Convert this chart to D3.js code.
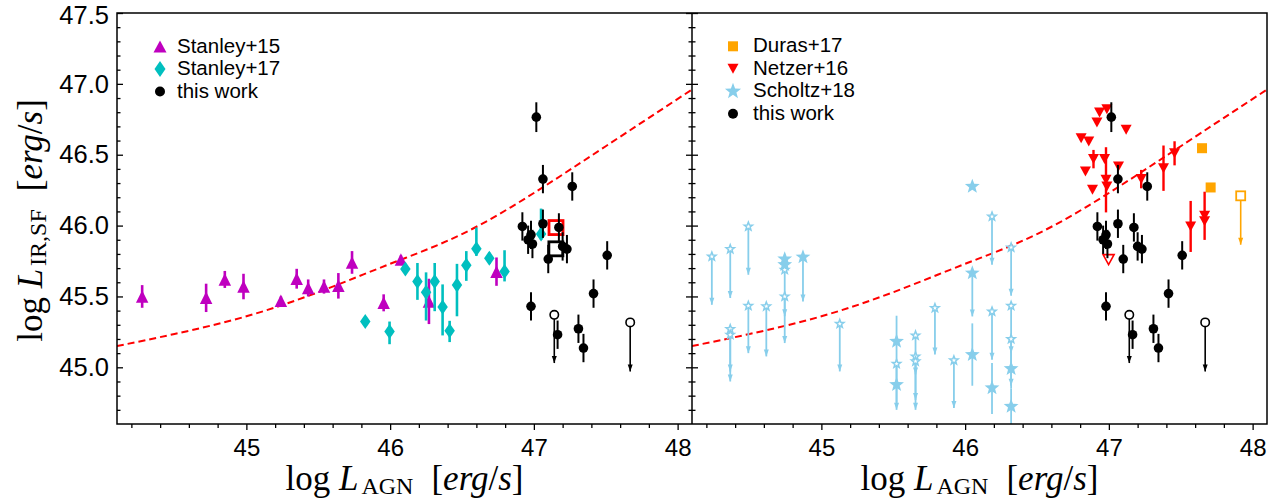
<!DOCTYPE html>
<html><head><meta charset="utf-8">
<script src="https://cdn.jsdelivr.net/npm/d3@7"></script>
<style>body{margin:0;background:#fff}svg{display:block}</style>
</head><body>
<svg id="c" width="1279" height="503"></svg>
<script>
// ---------------- data ----------------
const xTicks = [45, 46, 47, 48];
const yTicks = [45.0, 45.5, 46.0, 46.5, 47.0, 47.5];
const modelX = [44.1, 44.5, 45.0, 45.5, 46.0, 46.5, 47.0, 47.5, 48.1];
const modelY = [45.15, 45.235, 45.36, 45.53, 45.73, 45.94, 46.23, 46.56, 46.96];

// Stanley+15 [logLagn, logLir, err]
const stanley15 = [
  [44.275,45.50,0.08],[44.72,45.49,0.10],[44.85,45.62,0.06],[44.98,45.57,0.09],
  [45.24,45.47,0.03],[45.35,45.625,0.07],[45.43,45.56,0.06],[45.54,45.57,0.05],
  [45.64,45.575,0.09],[45.735,45.74,0.08],[45.955,45.455,0.06],[46.075,45.76,0.03],
  [46.27,45.465,0.16],[46.74,45.675,0.10]
];
// Stanley+17 [x, y, errDown, errUp]
const stanley17 = [
  [45.827,45.324,0.03,0.03],[45.996,45.253,0.09,0.07],[46.106,45.693,0.03,0.03],
  [46.19,45.606,0.13,0.13],[46.25,45.53,0.20,0.14],[46.31,45.606,0.21,0.13],
  [46.365,45.425,0.20,0.16],[46.414,45.258,0.08,0.07],[46.465,45.58,0.22,0.15],
  [46.53,45.72,0.11,0.10],[46.60,45.836,0.05,0.15],[46.69,45.77,0.04,0.04],
  [46.796,45.676,0.07,0.15],[47.05,45.94,0.04,0.18]
];
// this work [x, y, err]
const thisWork = [
  [47.017,46.765,0.105],[47.063,46.328,0.1],[47.267,46.276,0.1],[46.92,45.994,0.1],
  [47.063,46.013,0.1],[47.174,45.987,0.1],[46.98,45.935,0.1],[46.96,45.90,0.1],
  [46.99,45.87,0.1],[47.20,45.853,0.1],[47.23,45.834,0.1],[47.10,45.764,0.1],
  [47.415,45.52,0.1],[46.98,45.43,0.1],[47.165,45.23,0.1],[47.31,45.272,0.1],
  [47.345,45.136,0.1],[47.51,45.79,0.1]
];
// this work upper limits [x, y, arrowEnd]
const thisWorkLim = [[47.142,45.37,45.03],[47.67,45.317,44.97]];
const squareRed = [[47.154,45.986]];
const squareBlack = [[47.153,45.836]];
// Duras+17
const duras = [[47.648,46.546],[47.708,46.269]];
const durasLim = [[47.917,46.21,45.865]];
// Netzer+16 [x, y, err]
const netzer = [
  [46.935,46.798,0],[46.986,46.82,0],[46.917,46.727,0],[47.12,46.676,0],
  [46.807,46.617,0],[46.86,46.593,0],[46.893,46.469,0.065],[46.97,46.469,0],
  [47.067,46.417,0],[46.837,46.382,0],[46.98,46.323,0.23],[46.986,46.276,0],
  [46.886,46.252,0],[47.225,46.328,0.065],[47.38,46.405,0.16],[47.457,46.51,0.085],
  [47.569,45.994,0.18],[47.666,46.069,0.17],[47.666,46.03,0]
];
const netzerOpen = [[46.998,45.76]];
// Scholtz+18 big filled stars [x, y, barLow, barHigh]
const scholtzBig = [
  [44.745,45.764,45.764,45.764],[44.745,45.724,45.724,45.724],
  [45.523,45.183,45.0,45.364],[45.523,44.877,44.75,45.0],
  [46.05,46.276,46.276,46.276],[46.05,45.089,44.87,45.31],
  [46.187,44.854,44.67,45.03],[46.32,44.99,44.85,45.13],[46.32,44.724,44.6,44.85]
];
// Scholtz+18 big filled stars with upper-limit arrow [x, y, arrowEnd]
const scholtzBigLim = [[44.872,45.778,45.465],[46.05,45.665,45.359]];
// Scholtz+18 small open stars (upper limits) [x, y, arrowEnd]
const scholtzLim = [
  [44.238,45.782,45.441],[44.366,45.834,45.489],[44.492,45.994,45.653],
  [44.366,45.27,44.97],[44.366,45.23,44.90],[44.492,45.434,45.10],
  [44.617,45.43,45.077],[44.745,45.688,45.36],[44.745,45.50,45.171],
  [45.128,45.307,44.971],[45.523,45.025,44.70],[45.655,45.225,44.95],
  [45.655,45.077,44.77],[45.655,45.042,44.70],[45.79,45.418,45.09],
  [45.922,45.049,44.713],[46.187,46.064,45.724],[46.187,45.394,45.054],
  [46.32,45.846,45.505],[46.32,45.434,45.10],[46.32,45.20,44.87]
];
const legendLeft = ["Stanley+15", "Stanley+17", "this work"];
const legendRight = ["Duras+17", "Netzer+16", "Scholtz+18", "this work"];

// ---------------- layout ----------------
const svg = d3.select("#c");
const TOP = 13, BOT = 424;
const y = d3.scaleLinear([44.6, 47.5], [BOT, TOP]);
const xL = d3.scaleLinear([44.1, 48.1], [117, 692]);
const xR = d3.scaleLinear([44.1, 48.1], [692, 1267]);
const SANS = "Liberation Sans, Arial, Helvetica, sans-serif";
const SERIF = "Liberation Serif, Times New Roman, serif";
const C = {mag:"#bf00bf", cyan:"#00bfbf", red:"#ff0000", orange:"#ffa500", sky:"#87ceeb", blk:"#000"};

const defs = svg.append("defs");
[["clipL",117],["clipR",692]].forEach(([id,x0])=>{
  defs.append("clipPath").attr("id",id).append("rect").attr("x",x0).attr("y",TOP).attr("width",575).attr("height",BOT-TOP);
});

// shapes
function tri(cx,cy,w,h,up){ return up
  ? `M${cx},${cy-h/2}L${cx+w/2},${cy+h/2}L${cx-w/2},${cy+h/2}Z`
  : `M${cx},${cy+h/2}L${cx+w/2},${cy-h/2}L${cx-w/2},${cy-h/2}Z`; }
function diam(cx,cy,w,h){ return `M${cx},${cy-h/2}L${cx+w/2},${cy}L${cx},${cy+h/2}L${cx-w/2},${cy}Z`; }
function star(cx,cy,R){ const r=R*0.42, p=[]; for(let i=0;i<10;i++){const a=-Math.PI/2+i*Math.PI/5, rr=i%2?r:R; p.push([(cx+rr*Math.cos(a)).toFixed(2),(cy+rr*Math.sin(a)).toFixed(2)]);} return "M"+p.join("L")+"Z"; }
function vline(g,x,y1,y2,col,w){ g.append("line").attr("x1",x).attr("x2",x).attr("y1",y1).attr("y2",y2).attr("stroke",col).attr("stroke-width",w); }
function arrow(g,x,y0,y1,col,lw,aw,ah){ vline(g,x,y0,y1,col,lw); g.append("path").attr("d",tri(x,y1-ah/2,aw,ah,false)).attr("fill",col); }

function panelFrameTicks(x, side){
  const g = svg.append("g");
  const minorX = d3.range(44.2, 48.01, 0.2).map(v=>+v.toFixed(1)).filter(v=>!xTicks.includes(v));
  g.append("g").attr("class","xt").attr("transform",`translate(0,${BOT})`)
    .call(d3.axisBottom(x).tickValues(xTicks).tickSize(6).tickPadding(9).tickFormat(d3.format("d")));
  g.append("g").attr("transform",`translate(0,${BOT})`)
    .call(d3.axisBottom(x).tickValues(minorX).tickSize(4).tickFormat(""));
  const minorY = d3.range(44.7, 47.45, 0.1).map(v=>+v.toFixed(1)).filter(v=>!yTicks.includes(v));
  const x0 = x.range()[0], x1 = x.range()[1];
  g.append("g").attr("class","yt").attr("transform",`translate(${x0},0)`)
    .call(d3.axisLeft(y).tickValues(yTicks).tickSize(-6).tickPadding(8)
      .tickFormat(side==="L" ? d3.format(".1f") : ""));
  g.append("g").attr("transform",`translate(${x0},0)`)
    .call(d3.axisLeft(y).tickValues(minorY).tickSize(-3.5).tickFormat(""));
  if(side==="L"){
    g.append("g").attr("transform",`translate(${x1},0)`)
      .call(d3.axisRight(y).tickValues(yTicks).tickSize(-6).tickFormat(""));
    g.append("g").attr("transform",`translate(${x1},0)`)
      .call(d3.axisRight(y).tickValues(minorY).tickSize(-3.5).tickFormat(""));
  }
  g.selectAll(".domain").remove();
  g.selectAll(".tick line").attr("stroke","#000").attr("stroke-width",1.3);
  g.selectAll(".xt .tick text").attr("font-family",SANS).attr("font-size",24).attr("fill","#000");
  g.selectAll(".yt .tick text").attr("font-family",SANS).attr("font-size",25.5).attr("fill","#000");
  // keep the topmost label inside the picture
  g.selectAll(".yt .tick text").filter(d=>d===47.5).attr("dy","0.4em");
}

function modelLine(g,x){
  const pts = modelX.map((v,i)=>[x(v), y(modelY[i])]);
  g.append("path").attr("d", d3.line().curve(d3.curveNatural)(pts))
    .attr("fill","none").attr("stroke",C.red).attr("stroke-width",2).attr("stroke-dasharray","7,4");
}

function drawThisWork(g,x){
  thisWork.forEach(d=>vline(g,x(d[0]),y(d[1]-d[2]),y(d[1]+d[2]),C.blk,2));
  thisWorkLim.forEach(d=>arrow(g,x(d[0]),y(d[1]),y(d[2]),C.blk,1.6,5,7));
  thisWork.forEach(d=>g.append("circle").attr("cx",x(d[0])).attr("cy",y(d[1])).attr("r",4.8).attr("fill",C.blk));
  thisWorkLim.forEach(d=>g.append("circle").attr("cx",x(d[0])).attr("cy",y(d[1])).attr("r",4.2).attr("fill","#fff").attr("stroke",C.blk).attr("stroke-width",1.6));
}

// ---------------- left panel ----------------
const gL = svg.append("g").attr("clip-path","url(#clipL)");
modelLine(gL,xL);
stanley15.forEach(d=>vline(gL,xL(d[0]),y(d[1]-d[2]),y(d[1]+d[2]),C.mag,2.6));
stanley15.forEach(d=>gL.append("path").attr("d",tri(xL(d[0]),y(d[1]),12.5,12.5,true)).attr("fill",C.mag));
stanley17.forEach(d=>vline(gL,xL(d[0]),y(d[1]-d[2]),y(d[1]+d[3]),C.cyan,2.6));
stanley17.forEach(d=>gL.append("path").attr("d",diam(xL(d[0]),y(d[1]),10.5,15)).attr("fill",C.cyan));
squareRed.forEach(d=>gL.append("rect").attr("x",xL(d[0])-7).attr("y",y(d[1])-7).attr("width",14).attr("height",14).attr("fill","none").attr("stroke",C.red).attr("stroke-width",2.8));
squareBlack.forEach(d=>gL.append("rect").attr("x",xL(d[0])-7).attr("y",y(d[1])-7).attr("width",14).attr("height",14).attr("fill","none").attr("stroke",C.blk).attr("stroke-width",2.8));
drawThisWork(gL,xL);

// ---------------- right panel ----------------
const gR = svg.append("g").attr("clip-path","url(#clipR)");
modelLine(gR,xR);
durasLim.forEach(d=>arrow(gR,xR(d[0]),y(d[1]),y(d[2]),C.orange,1.6,5,7));
duras.forEach(d=>gR.append("rect").attr("x",xR(d[0])-5).attr("y",y(d[1])-5).attr("width",10).attr("height",10).attr("fill",C.orange));
durasLim.forEach(d=>gR.append("rect").attr("x",xR(d[0])-4.5).attr("y",y(d[1])-4.5).attr("width",9).attr("height",9).attr("fill","#fff").attr("stroke",C.orange).attr("stroke-width",1.8));
netzer.forEach(d=>{ if(d[2]>0) vline(gR,xR(d[0]),y(d[1]-d[2]),y(d[1]+d[2]),C.red,2.4); });
netzer.forEach(d=>gR.append("path").attr("d",tri(xR(d[0]),y(d[1]),11,10,false)).attr("fill",C.red));
netzerOpen.forEach(d=>gR.append("path").attr("d",tri(xR(d[0]),y(d[1]),11,10,false)).attr("fill","#fff").attr("stroke",C.red).attr("stroke-width",1.6));
scholtzLim.forEach(d=>arrow(gR,xR(d[0]),y(d[1]),y(d[2]),C.sky,1.8,5,7));
scholtzBigLim.forEach(d=>arrow(gR,xR(d[0]),y(d[1]),y(d[2]),C.sky,1.8,5,7));
scholtzBig.forEach(d=>{ if(d[3]>d[2]) vline(gR,xR(d[0]),y(d[2]),y(d[3]),C.sky,1.8); });
scholtzLim.forEach(d=>gR.append("path").attr("d",star(xR(d[0]),y(d[1]),4.4)).attr("fill","#fff").attr("stroke",C.sky).attr("stroke-width",1.5));
scholtzBig.concat(scholtzBigLim).forEach(d=>gR.append("path").attr("d",star(xR(d[0]),y(d[1]),7.8)).attr("fill",C.sky));
drawThisWork(gR,xR);

// ---------------- frame & axes ----------------
svg.append("rect").attr("x",117).attr("y",TOP).attr("width",1150).attr("height",BOT-TOP).attr("fill","none").attr("stroke","#000").attr("stroke-width",1.5);
svg.append("line").attr("x1",692).attr("x2",692).attr("y1",TOP).attr("y2",BOT).attr("stroke","#000").attr("stroke-width",1.5);
panelFrameTicks(xL,"L");
panelFrameTicks(xR,"R");

// ---------------- legends ----------------
function legText(x,yb,t){ svg.append("text").attr("x",x).attr("y",yb).attr("font-family",SANS).attr("font-size",20.5).text(t); }
const lb = [52.5, 75, 97.5];
svg.append("path").attr("d",tri(160,lb[0]-6,13,12,true)).attr("fill",C.mag);
svg.append("path").attr("d",diam(160,lb[1]-6,11,16)).attr("fill",C.cyan);
svg.append("circle").attr("cx",160).attr("cy",lb[2]-6).attr("r",5).attr("fill",C.blk);
legendLeft.forEach((t,i)=>legText(177,lb[i],t));
const rb = [52.3, 74.8, 97.3, 119.8];
svg.append("rect").attr("x",733-5).attr("y",rb[0]-6-5).attr("width",10).attr("height",10).attr("fill",C.orange);
svg.append("path").attr("d",tri(733,rb[1]-6,11,10,false)).attr("fill",C.red);
svg.append("path").attr("d",star(733,rb[2]-6,8.5)).attr("fill",C.sky);
svg.append("circle").attr("cx",733).attr("cy",rb[3]-6).attr("r",5).attr("fill",C.blk);
legendRight.forEach((t,i)=>legText(753,rb[i],t));

// ---------------- axis labels ----------------
function mathLabel(t, sub){
  t.attr("font-family",SERIF).attr("font-size",35).attr("fill","#000");
  t.append("tspan").text("log ");
  t.append("tspan").attr("font-style","italic").text("L");
  t.append("tspan").attr("font-size",24).attr("dx",3).attr("dy",4).text(sub);
  t.append("tspan").attr("dx",18).attr("dy",-4).text("[");
  t.append("tspan").attr("font-style","italic").text("erg");
  t.append("tspan").text("/");
  t.append("tspan").attr("font-style","italic").text("s");
  t.append("tspan").text("]");
}
mathLabel(svg.append("text").attr("x",(117+692)/2).attr("y",490).attr("text-anchor","middle"), "AGN");
mathLabel(svg.append("text").attr("x",(692+1267)/2).attr("y",490).attr("text-anchor","middle"), "AGN");
mathLabel(svg.append("text").attr("transform",`translate(42,${(TOP+BOT)/2+2}) rotate(-90)`).attr("text-anchor","middle"), "IR,SF");
</script>
</body></html>
